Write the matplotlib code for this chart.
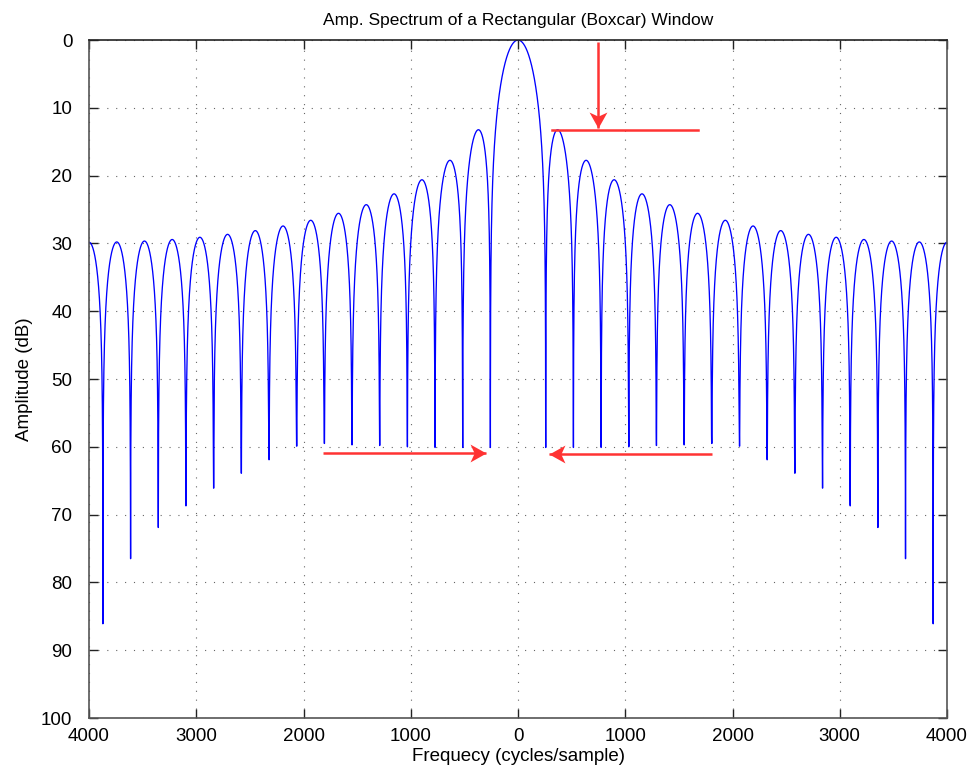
import numpy as np
import matplotlib
matplotlib.use("Agg")
import matplotlib.pyplot as plt
from matplotlib.path import Path

plt.rcParams['font.family'] = ['Liberation Sans', 'DejaVu Sans']

# Rectangular window and sampling setup
window_length = 31
sample_rate = 8000.0
nfft = 65536

# Depth (dB) reached at each spectral null k = 1..15, on both sides of 0 Hz
null_depths = [60.1, 60.1, 60.1, 60.0, 59.8, 59.7, 59.5, 59.9,
               61.9, 63.9, 66.1, 68.7, 71.9, 76.5, 86.1]

# Axis ticks
xticks = [-4000, -3000, -2000, -1000, 0, 1000, 2000, 3000, 4000]
xticklabels = ['4000', '3000', '2000', '1000', '0', '1000', '2000', '3000', '4000']
yticks = [0, 10, 20, 30, 40, 50, 60, 70, 80, 90, 100]

# Red markers: first side-lobe level and the main-lobe nulls
sidelobe_level = 13.26
sidelobe_arrow_x = 746
sidelobe_arrow_y = [0.3, 13.0]
sidelobe_line_x = [317, 1678]
null_arrow_y = [60.9, 61.0]
null_arrow_left = [-1818, -300]
null_arrow_right = [1806, 292]

# Amplitude spectrum of the boxcar window
window = np.ones(window_length)
spec = np.fft.fftshift(np.fft.fft(window, nfft))
freq = np.fft.fftshift(np.fft.fftfreq(nfft, 1.0 / sample_rate))
mag = np.abs(spec) / window.sum()
freq = np.append(freq, sample_rate / 2)
mag = np.append(mag, mag[0])
atten = -20 * np.log10(np.maximum(mag, 1e-12))

# limit each null to its plotted depth
bin_width = sample_rate / window_length
k = np.rint(np.abs(freq) / bin_width).astype(int)
depth_table = np.array([np.inf] + null_depths + [np.inf] * 4)
atten = np.minimum(atten, depth_table[k])

fig = plt.figure(figsize=(9.7, 7.7), dpi=100)
ax = fig.add_axes([0.0918, 0.0675, 0.8845, 0.8805])

ax.plot(freq, atten, color='#0000ff', lw=0.95)

ax.set_xlim(-4000, 4000)
ax.set_ylim(100, 0)
ax.set_xticks(xticks)
ax.set_xticklabels(xticklabels)
ax.set_yticks(yticks)
ax.tick_params(direction='in', length=6.5, width=1.0, top=True, right=True,
               labelsize=13.5, color='#222222')
ax.tick_params(axis='x', pad=7)
ax.tick_params(axis='y', pad=12)
for name, s in ax.spines.items():
    s.set_color('#222222' if name == 'top' else '#555555')
    s.set_linewidth(1.2)
ax.grid(True, color='#666666', linestyle=(0, (1, 7)), linewidth=0.8)

ax.set_title('Amp. Spectrum of a Rectangular (Boxcar) Window', fontsize=12.5, pad=11)
ax.set_xlabel('Frequecy (cycles/sample)', fontsize=13.5, labelpad=2)
ax.set_ylabel('Amplitude (dB)', fontsize=13.5, labelpad=6)

red = '#ff3333'


def stealth_head(angle_deg):
    """Concave-backed arrowhead marker with its tip at the origin."""
    pts = np.array([[0.0, 0.0], [-1.0, 0.56], [-0.74, 0.0], [-1.0, -0.56], [0.0, 0.0]])
    a = np.deg2rad(angle_deg)
    rot = np.array([[np.cos(a), -np.sin(a)], [np.sin(a), np.cos(a)]])
    pts = pts @ rot.T
    codes = [Path.MOVETO, Path.LINETO, Path.LINETO, Path.LINETO, Path.CLOSEPOLY]
    return Path(pts, codes)


def arrow(x, y, angle_deg):
    ax.plot(x, y, color=red, lw=1.8, solid_capstyle='butt')
    ax.plot(x[-1], y[-1], marker=stealth_head(angle_deg), markersize=23,
            color=red, markeredgewidth=0, linestyle='none')


arrow([sidelobe_arrow_x, sidelobe_arrow_x], sidelobe_arrow_y, -90)
ax.plot(sidelobe_line_x, [sidelobe_level, sidelobe_level], color=red, lw=1.8)
arrow(null_arrow_left, [null_arrow_y[0]] * 2, 0)
arrow(null_arrow_right, [null_arrow_y[1]] * 2, 180)

fig.savefig('out.png', dpi=100)
